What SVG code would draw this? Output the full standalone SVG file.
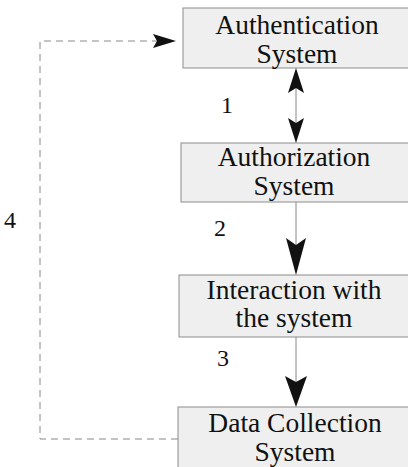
<svg xmlns="http://www.w3.org/2000/svg" width="408" height="467" viewBox="0 0 408 467">
<style>
.box{fill:#efefef;stroke:#8c8c8c;stroke-width:1}
.t{font-family:"Liberation Serif","Times New Roman",serif;font-size:27.5px;fill:#111;text-anchor:middle}
.n{font-family:"Liberation Serif","Times New Roman",serif;font-size:24px;fill:#111}
.ln{stroke:#888;stroke-width:1;fill:none}
.dash{stroke:#888;stroke-width:1;fill:none;stroke-dasharray:7,5}
.head{fill:#111}
</style>
<rect width="408" height="467" fill="#fff"/>
<g id="auth">
<rect class="box" x="183" y="8" width="230" height="60"/>
<text class="t" x="297" y="34">Authentication</text>
<text class="t" x="297" y="63">System</text>
</g>
<g id="authz">
<rect class="box" x="181" y="143" width="232" height="59"/>
<text class="t" x="294" y="166">Authorization</text>
<text class="t" x="294" y="195">System</text>
</g>
<g id="interact">
<rect class="box" x="179" y="275" width="234" height="62"/>
<text class="t" x="294" y="299">Interaction with</text>
<text class="t" x="294" y="327">the system</text>
</g>
<g id="collect">
<rect class="box" x="178" y="407" width="235" height="65"/>
<text class="t" x="295" y="432">Data Collection</text>
<text class="t" x="295" y="461">System</text>
</g>
<g id="connectors">
<line class="ln" x1="296" y1="88" x2="296" y2="123"/>
<polygon class="head" points="296,68 304,93 296,88 288,93"/>
<polygon class="head" points="296,143 304,118 296,123 288,118"/>
<line class="ln" x1="296" y1="202" x2="296" y2="248"/>
<polygon class="head" points="296,275 306,238 296,245 286,238"/>
<line class="ln" x1="296" y1="337" x2="296" y2="383"/>
<polygon class="head" points="296,407 307,376 296,382 285,376"/>
<polyline class="dash" points="178,439 40,439 40,41 158,41"/>
<polygon class="head" points="176,41 153,34 157,41 153,48"/>
</g>
<g id="labels">
<text class="n" x="221" y="113">1</text>
<text class="n" x="214" y="236">2</text>
<text class="n" x="217" y="366">3</text>
<text class="n" x="4" y="228">4</text>
</g>
</svg>
